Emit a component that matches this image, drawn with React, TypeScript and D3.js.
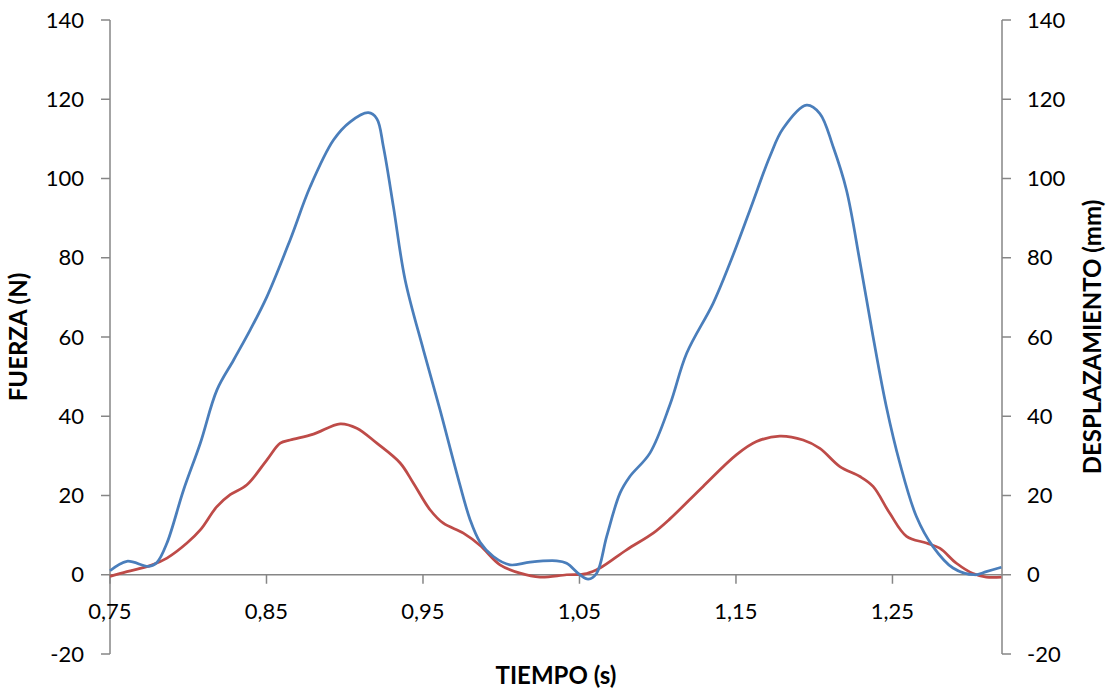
import React from "react";
import * as d3 from "d3";

const forceT = [0.75, 0.7608, 0.7747, 0.78, 0.7864, 0.797, 0.8077, 0.8183, 0.829, 0.8396, 0.8503, 0.8651, 0.8779, 0.8928, 0.9035, 0.9151, 0.9205, 0.9247, 0.9311, 0.9386, 0.9503, 0.9609, 0.9716, 0.9801, 0.9865, 0.995, 1.0056, 1.0184, 1.0354, 1.0418, 1.0503, 1.0556, 1.061, 1.0674, 1.0759, 1.0822, 1.095, 1.1078, 1.1185, 1.1354, 1.1461, 1.1589, 1.1716, 1.1801, 1.1951, 1.2036, 1.2121, 1.2206, 1.2292, 1.2376, 1.2461, 1.2547, 1.2653, 1.2759, 1.2887, 1.3025, 1.31, 1.3196];
const forceN = [1.0, 3.4, 2.1, 3.1, 8, 21.4, 33.2, 46.6, 54.2, 61.8, 70.2, 84.5, 97.9, 109.7, 114.3, 116.6, 115.1, 108, 92.9, 74.4, 56.7, 41.6, 25.6, 13.9, 8.2, 4.6, 2.5, 3.2, 3.5, 2.9, 0, -1.1, 0.4, 9.7, 20.6, 24.8, 30.7, 42.9, 55.9, 68.5, 78.6, 92, 105.5, 112.6, 118.5, 116.4, 108, 97.1, 79, 60.1, 42.4, 28.2, 14.7, 7.1, 1.7, 0, 0.8, 1.9];

const dispT = [0.75, 0.7608, 0.7757, 0.7864, 0.7992, 0.8077, 0.8183, 0.8268, 0.8375, 0.8503, 0.8588, 0.8651, 0.88, 0.8971, 0.9077, 0.9205, 0.9354, 0.9439, 0.9545, 0.963, 0.9758, 0.9865, 0.9992, 1.012, 1.0248, 1.0418, 1.0546, 1.0631, 1.0801, 1.0971, 1.1078, 1.129, 1.1504, 1.1631, 1.178, 1.1929, 1.2036, 1.2164, 1.2292, 1.2376, 1.2483, 1.259, 1.2717, 1.2802, 1.2909, 1.3015, 1.31, 1.3196];
const dispMM = [-0.4, 0.8, 2.3, 4.2, 8, 11.3, 17.2, 20.2, 22.7, 29, 33.2, 34, 35.5, 38.1, 37, 33.2, 28.2, 23.1, 16.4, 13, 10.5, 7.4, 2.5, 0.4, -0.6, 0, 0.3, 1.7, 6.3, 10.5, 14.1, 22.3, 30.3, 33.6, 35, 34, 31.9, 27.3, 24.8, 22.3, 15.5, 9.7, 8, 6.7, 2.9, 0.3, -0.6, -0.6];

const xTicks = [0.75, 0.85, 0.95, 1.05, 1.15, 1.25];
const yTicks = [-20, 0, 20, 40, 60, 80, 100, 120, 140];

const xTitle = "TIEMPO (s)";
const yLeftTitle = "FUERZA (N)";
const yRightTitle = "DESPLAZAMIENTO (mm)";

export default function App() {
  const W = 1113, H = 694;
  const left = 110, right = 1002, top = 20, bottom = 654;
  const x = d3.scaleLinear().domain([0.75, 1.32]).range([left, right]);
  const y = d3.scaleLinear().domain([-20, 140]).range([bottom, top]);
  const line = d3.line<[number, number]>().x(d => x(d[0])).y(d => y(d[1])).curve(d3.curveCatmullRom.alpha(0.5));
  const forcePts = forceT.map((t, i) => [t, forceN[i]] as [number, number]);
  const dispPts = dispT.map((t, i) => [t, dispMM[i]] as [number, number]);
  const axisColor = "#868686";
  const font = "Lato, 'Open Sans', sans-serif";
  const fmt = (v: number) => v.toFixed(2).replace(".", ",");
  return (
    <svg width={W} height={H} style={{ position: "absolute", left: 0, top: 0, background: "#fff" }} fontFamily={font}>
      <line x1={left} x2={left} y1={y(140)} y2={y(-20)} stroke={axisColor} strokeWidth={1.5} />
      <line x1={right} x2={right} y1={y(140)} y2={y(-20)} stroke={axisColor} strokeWidth={1.5} />
      <line x1={left} x2={right} y1={y(0)} y2={y(0)} stroke={axisColor} strokeWidth={1.5} />
      {yTicks.map(v => (
        <g key={"yt" + v}>
          <line x1={left - 9} x2={left} y1={y(v)} y2={y(v)} stroke={axisColor} strokeWidth={1.5} />
          <line x1={right} x2={right + 9} y1={y(v)} y2={y(v)} stroke={axisColor} strokeWidth={1.5} />
          <text x={84} y={y(v)} dy="0.35em" textAnchor="end" fontSize={22} fill="#000">{v}</text>
          <text x={1027} y={y(v)} dy="0.35em" textAnchor="start" fontSize={22} fill="#000">{v}</text>
        </g>
      ))}
      {xTicks.map(v => (
        <g key={"xt" + v}>
          <line x1={x(v)} x2={x(v)} y1={y(0)} y2={y(0) + 9} stroke={axisColor} strokeWidth={1.5} />
          <text x={x(v)} y={611} dy="0.35em" textAnchor="middle" fontSize={22} fill="#000">{fmt(v)}</text>
        </g>
      ))}
      <path d={line(dispPts) || ""} fill="none" stroke="#BE4B48" strokeWidth={2.75} />
      <path d={line(forcePts) || ""} fill="none" stroke="#4A7EBB" strokeWidth={2.75} />
      <text x={556} y={676} dy="0.35em" textAnchor="middle" fontSize={24} fontWeight="bold" fill="#000">{xTitle}</text>
      <text transform={`translate(19,337) rotate(-90)`} dy="0.35em" textAnchor="middle" fontSize={24} fontWeight="bold" fill="#000">{yLeftTitle}</text>
      <text transform={`translate(1093,337) rotate(-90)`} dy="0.35em" textAnchor="middle" fontSize={24} fontWeight="bold" fill="#000">{yRightTitle}</text>
    </svg>
  );
}
